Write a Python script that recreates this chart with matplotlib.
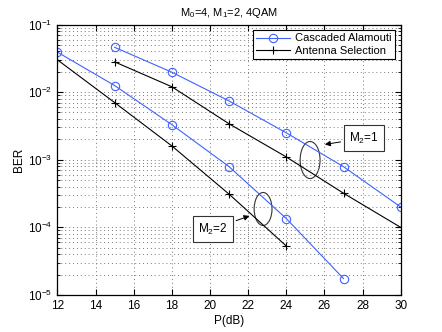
import matplotlib
matplotlib.use("Agg")
import matplotlib.pyplot as plt
from matplotlib.patches import Ellipse
from matplotlib.ticker import LogLocator, NullFormatter

plt.rcParams['font.family'] = ['Liberation Sans', 'DejaVu Sans']
plt.rcParams['font.size'] = 8
plt.rcParams['mathtext.fontset'] = 'custom'
plt.rcParams['mathtext.rm'] = 'Liberation Sans'
plt.rcParams['mathtext.it'] = 'Liberation Sans'

# data
p_m1 = [15, 18, 21, 24, 27, 30]
ca_m1 = [0.046, 0.0197, 0.0074, 0.0025, 7.9e-4, 2.0e-4]
as_m1 = [0.028, 0.012, 0.0034, 1.1e-3, 3.2e-4, 1.0e-4]

p_ca2 = [12, 15, 18, 21, 24, 27]
ca_m2 = [0.039, 0.0125, 0.0033, 7.9e-4, 1.35e-4, 1.75e-5]
p_as2 = [12, 15, 18, 21, 24]
as_m2 = [0.030, 0.0070, 1.6e-3, 3.1e-4, 5.3e-5]

blue = '#3f62ff'

fig = plt.figure(figsize=(4.42, 3.32), dpi=100)
ax = fig.add_axes([0.130, 0.1114, 0.7766, 0.8148])

ax.semilogy(p_m1, ca_m1, '-o', color=blue, lw=0.8, ms=6, mfc='none', mew=0.8,
            label='Cascaded Alamouti')
ax.semilogy(p_m1, as_m1, '-+', color='black', lw=0.8, ms=6, mew=0.8,
            label='Antenna Selection')
ax.semilogy(p_ca2, ca_m2, '-o', color=blue, lw=0.8, ms=6, mfc='none', mew=0.8)
ax.semilogy(p_as2, as_m2, '-+', color='black', lw=0.8, ms=6, mew=0.8)

ax.set_xlim(12, 30)
ax.set_ylim(1e-5, 1e-1)
ax.set_xticks(range(12, 31, 2))
ax.yaxis.set_minor_locator(LogLocator(base=10, subs=range(2, 10)))
ax.yaxis.set_minor_formatter(NullFormatter())
ax.tick_params(which='both', direction='in', top=True, right=True, labelsize=8.5)
ax.tick_params(which='major', length=4)
ax.tick_params(which='minor', length=2)
ax.grid(True, which='major', ls=(0, (1, 3)), color='#777777', lw=0.7)
ax.grid(True, which='minor', axis='y', ls=(0, (1, 3)), color='#777777', lw=0.7)
for s in ax.spines.values():
    s.set_linewidth(0.9)

ax.set_xlabel('P(dB)', labelpad=2, fontsize=8.5)
ax.set_ylabel('BER', labelpad=2, fontsize=8.5)
ax.set_title('$\\mathregular{M_0}$=4, $\\mathregular{M_1}$=2, 4QAM', fontsize=8, pad=6)

leg = ax.legend(loc='upper right', fancybox=False, framealpha=1, edgecolor='black',
                borderaxespad=0.5, handlelength=3.0, labelspacing=0.2, borderpad=0.3,
                handletextpad=0.5, fontsize=8)
leg.get_frame().set_linewidth(0.8)

# ellipses grouping the curves
ax.add_patch(Ellipse((0.736, 0.499), 0.058, 0.137, transform=ax.transAxes,
                     fill=False, color='#333333', lw=0.8))
ax.add_patch(Ellipse((0.599, 0.318), 0.052, 0.122, transform=ax.transAxes,
                     fill=False, color='#333333', lw=0.8))

box = dict(boxstyle='square,pad=0.45', fc='white', ec='#333333', lw=0.8)
arrow = dict(arrowstyle='-|>', color='black', lw=0.7, mutation_scale=8)
ax.annotate('$\\mathregular{M_2}$=1', xy=(0.771, 0.555), xycoords='axes fraction',
            xytext=(0.893, 0.580), textcoords='axes fraction', fontsize=8.5,
            ha='center', va='center', bbox=box, arrowprops=arrow)
ax.annotate('$\\mathregular{M_2}$=2', xy=(0.567, 0.296), xycoords='axes fraction',
            xytext=(0.453, 0.244), textcoords='axes fraction', fontsize=8.5,
            ha='center', va='center', bbox=box, arrowprops=arrow)

fig.savefig('out.png', dpi=100)
